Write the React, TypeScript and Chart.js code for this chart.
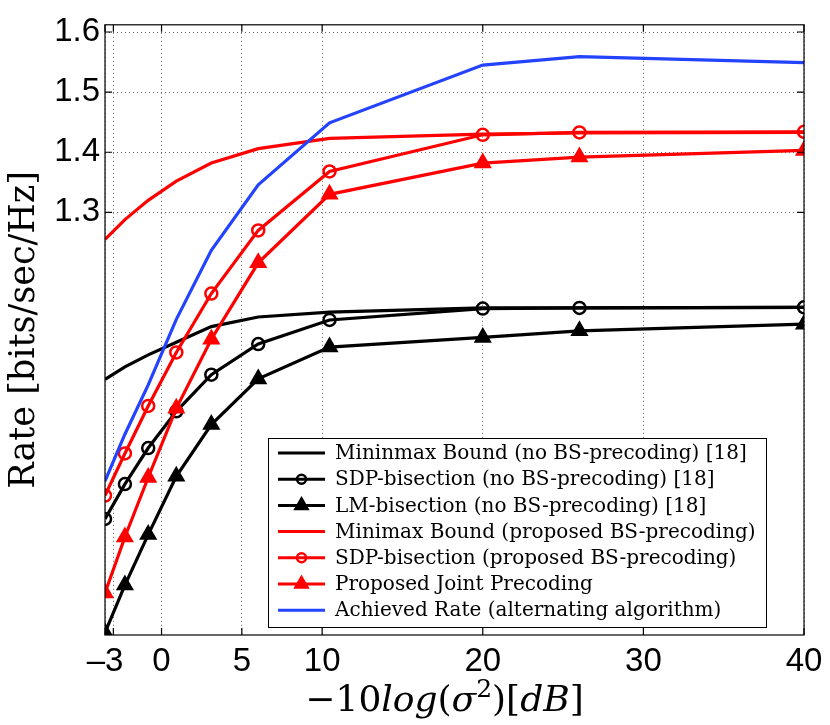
import React, { useEffect, useRef } from 'react';
import { Chart, registerables } from 'chart.js';

Chart.register(...registerables);

// x positions, -10log(sigma^2) in dB
const noiseDb = [-3.52, -2.28, -0.83, 0.92, 3.1, 6.02, 10.46, 20, 26.02, 40];

// rates in bits/sec/Hz
const minimaxNoBs = [1.022, 1.043, 1.063, 1.084, 1.11, 1.126, 1.134, 1.141, 1.141, 1.142];
const sdpNoBs = [0.79, 0.848, 0.908, 0.969, 1.03, 1.081, 1.121, 1.14, 1.141, 1.142];
const lmNoBs = [0.601, 0.68, 0.764, 0.861, 0.947, 1.023, 1.076, 1.092, 1.103, 1.114];
const minimaxProposed = [1.255, 1.288, 1.32, 1.352, 1.382, 1.406, 1.423, 1.43, 1.432, 1.433];
const sdpProposed = [0.829, 0.899, 0.978, 1.067, 1.165, 1.27, 1.368, 1.429, 1.433, 1.434];
const jointProposed = [0.667, 0.76, 0.859, 0.974, 1.089, 1.216, 1.33, 1.382, 1.392, 1.403];
const achievedRate = [0.853, 0.931, 1.013, 1.122, 1.237, 1.346, 1.449, 1.545, 1.559, 1.549];

const xTickValues = [-3.52, -3, 0, 5, 10, 20, 30, 40];
const xTickLabels = ['–3', '', '0', '5', '10', '20', '30', '40'];
const yTickValues = [1.3, 1.4, 1.5, 1.6];
const yTickLabels = ['1.3', '1.4', '1.5', '1.6'];

type Marker = 'none' | 'circle' | 'triangle';

const series: { label: string; values: number[]; color: string; marker: Marker }[] = [
  { label: 'Mininmax Bound (no BS-precoding) [18]', values: minimaxNoBs, color: '#000000', marker: 'none' },
  { label: 'SDP-bisection (no BS-precoding) [18]', values: sdpNoBs, color: '#000000', marker: 'circle' },
  { label: 'LM-bisection (no BS-precoding) [18]', values: lmNoBs, color: '#000000', marker: 'triangle' },
  { label: 'Minimax Bound (proposed BS-precoding)', values: minimaxProposed, color: '#ff0000', marker: 'none' },
  { label: 'SDP-bisection (proposed BS-precoding)', values: sdpProposed, color: '#ff0000', marker: 'circle' },
  { label: 'Proposed Joint Precoding', values: jointProposed, color: '#ff0000', marker: 'triangle' },
  { label: 'Achieved Rate (alternating algorithm)', values: achievedRate, color: '#2343ff', marker: 'none' },
];

const SERIF = '"DejaVu Serif", serif';
const SANS = '"Liberation Sans", Arial, sans-serif';

function drawMarker(ctx: CanvasRenderingContext2D, marker: Marker, x: number, y: number, r: number, color: string) {
  if (marker === 'none') return;
  ctx.save();
  ctx.lineWidth = 2.5;
  ctx.strokeStyle = color;
  ctx.fillStyle = color;
  ctx.beginPath();
  if (marker === 'circle') {
    ctx.arc(x, y, r, 0, Math.PI * 2);
    ctx.stroke();
  } else {
    ctx.moveTo(x, y - r);
    ctx.lineTo(x + r * 0.866, y + r * 0.5);
    ctx.lineTo(x - r * 0.866, y + r * 0.5);
    ctx.closePath();
    ctx.fill();
    ctx.stroke();
  }
  ctx.restore();
}

// box, inward ticks, legend and the x axis label
const framePlugin = {
  id: 'matlabFrame',
  afterDatasetsDraw(chart: Chart) {
    const { ctx, chartArea } = chart;
    const { left, right, top, bottom } = chartArea;
    const xs = chart.scales.x;
    const ys = chart.scales.y;
    ctx.save();
    ctx.strokeStyle = '#000';
    ctx.lineWidth = 1.2;
    ctx.strokeRect(left, top, right - left, bottom - top);
    ctx.beginPath();
    xs.ticks.forEach((t) => {
      const px = xs.getPixelForValue(t.value);
      ctx.moveTo(px, bottom);
      ctx.lineTo(px, bottom - 7);
      ctx.moveTo(px, top);
      ctx.lineTo(px, top + 7);
    });
    ys.ticks.forEach((t) => {
      const py = ys.getPixelForValue(t.value);
      ctx.moveTo(left, py);
      ctx.lineTo(left + 7, py);
      ctx.moveTo(right, py);
      ctx.lineTo(right - 7, py);
    });
    ctx.stroke();
    ctx.restore();
  },
  afterDraw(chart: Chart) {
    const { ctx, chartArea } = chart;
    const { left, right, bottom } = chartArea;

    // legend
    const bx = left + 163;
    const bw = right - 38 - bx;
    const bh = 189;
    const by = bottom - 8 - bh;
    ctx.save();
    ctx.fillStyle = '#fff';
    ctx.fillRect(bx, by, bw, bh);
    ctx.strokeStyle = '#000';
    ctx.lineWidth = 1;
    ctx.strokeRect(bx + 0.5, by + 0.5, bw, bh);
    ctx.font = `20px ${SERIF}`;
    ctx.textBaseline = 'middle';
    ctx.textAlign = 'left';
    series.forEach((s, i) => {
      const ry = by + 15 + i * 26.2;
      ctx.strokeStyle = s.color;
      ctx.lineWidth = 3;
      ctx.beginPath();
      ctx.moveTo(bx + 10, ry);
      ctx.lineTo(bx + 57, ry);
      ctx.stroke();
      drawMarker(ctx, s.marker, bx + 33.5, ry, s.marker === 'triangle' ? 7 : 4.5, s.color);
      ctx.fillStyle = '#000';
      ctx.fillText(s.label, bx + 67, ry + 1);
    });
    ctx.restore();

    // x axis label: -10log(sigma^2)[dB]
    const parts: { t: string; italic?: boolean; sup?: boolean }[] = [
      { t: '−10' },
      { t: 'log', italic: true },
      { t: '(' },
      { t: 'σ', italic: true },
      { t: '2', sup: true },
      { t: ')[' },
      { t: 'dB', italic: true },
      { t: ']' },
    ];
    const size = 36;
    const fontOf = (p: { italic?: boolean; sup?: boolean }) =>
      `${p.italic ? 'italic ' : ''}${p.sup ? Math.round(size * 0.7) : size}px ${SERIF}`;
    ctx.save();
    ctx.fillStyle = '#000';
    ctx.textBaseline = 'alphabetic';
    ctx.textAlign = 'left';
    let total = 0;
    parts.forEach((p) => {
      ctx.font = fontOf(p);
      total += ctx.measureText(p.t).width;
    });
    let cx = (left + right) / 2 - 10 - total / 2;
    const baseY = 711;
    parts.forEach((p) => {
      ctx.font = fontOf(p);
      ctx.fillText(p.t, cx, p.sup ? baseY - 14 : baseY);
      cx += ctx.measureText(p.t).width;
    });
    ctx.restore();
  },
};

const App: React.FC = () => {
  const canvasRef = useRef<HTMLCanvasElement>(null);
  const chartRef = useRef<Chart | null>(null);

  useEffect(() => {
    if (!canvasRef.current) return;
    if (chartRef.current) chartRef.current.destroy();

    const datasets = series.map((s, i) => ({
      label: s.label,
      data: noiseDb.map((x, j) => ({ x, y: s.values[j] })),
      borderColor: s.color,
      backgroundColor: s.color,
      borderWidth: 3.2,
      pointStyle: s.marker === 'triangle' ? 'triangle' : 'circle',
      pointRadius: s.marker === 'none' ? 0 : s.marker === 'triangle' ? 8 : 6,
      pointHoverRadius: 0,
      pointBorderWidth: 2.5,
      pointBorderColor: s.color,
      pointBackgroundColor: s.marker === 'triangle' ? s.color : 'rgba(0,0,0,0)',
      tension: 0,
      fill: false,
      order: series.length - i,
    }));

    chartRef.current = new Chart(canvasRef.current, {
      type: 'line',
      data: { datasets },
      options: {
        animation: false,
        responsive: false,
        events: [],
        layout: { padding: { top: 19, right: 26, left: 0, bottom: 0 } },
        plugins: {
          legend: { display: false },
          tooltip: { enabled: false },
        },
        scales: {
          x: {
            type: 'linear',
            min: -3.52,
            max: 40,
            afterBuildTicks: (scale) => {
              scale.ticks = xTickValues.map((v) => ({ value: v }));
            },
            afterFit: (scale) => {
              scale.height = 90;
            },
            grid: { color: 'rgba(0,0,0,0.6)', lineWidth: 1, drawTicks: false },
            border: { display: false, dash: [1, 3] },
            ticks: {
              autoSkip: false,
              maxRotation: 0,
              minRotation: 0,
              padding: 7,
              color: '#000',
              font: { family: SANS, size: 33 },
              callback: (_v, i) => xTickLabels[i],
            },
          },
          y: {
            type: 'linear',
            min: 0.597,
            max: 1.612,
            afterBuildTicks: (scale) => {
              scale.ticks = yTickValues.map((v) => ({ value: v }));
            },
            afterFit: (scale) => {
              scale.width = 105;
            },
            grid: { color: 'rgba(0,0,0,0.6)', lineWidth: 1, drawTicks: false },
            border: { display: false, dash: [1, 3] },
            ticks: {
              autoSkip: false,
              padding: 5,
              color: '#000',
              font: { family: SANS, size: 33 },
              callback: (_v, i) => yTickLabels[i],
            },
            title: {
              display: true,
              text: 'Rate [bits/sec/Hz]',
              color: '#000',
              font: { family: SERIF, size: 35, lineHeight: 1 },
              padding: { top: 7, bottom: 0 },
            },
          },
        },
      },
      plugins: [framePlugin],
    });

    return () => {
      if (chartRef.current) {
        chartRef.current.destroy();
        chartRef.current = null;
      }
    };
  }, []);

  return (
    <div style={{ position: 'absolute', left: 0, top: 0, width: 830, height: 725, background: '#fff' }}>
      <canvas ref={canvasRef} width={830} height={725} />
    </div>
  );
};

export default App;
